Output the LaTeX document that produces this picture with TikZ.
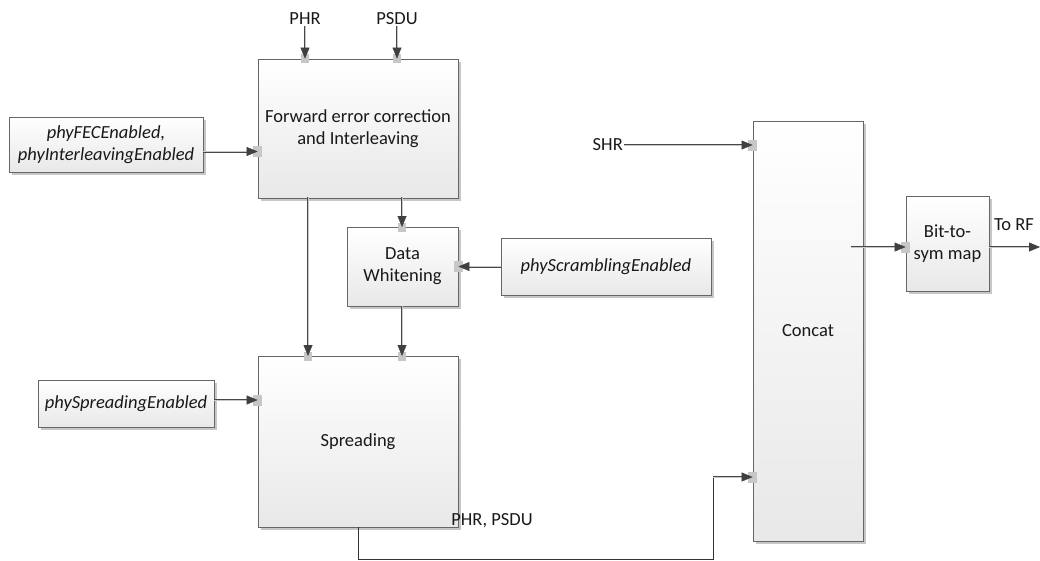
\documentclass[tikz,border=0pt]{standalone}
\usepackage{fontspec}
\setmainfont{Carlito}
\usetikzlibrary{arrows.meta,calc,shadows}
\begin{document}
\begin{tikzpicture}[x=1pt,y=-1pt,
  box/.style={draw=black!60, line width=0.8pt, top color=white, bottom color=black!9,
    inner sep=0pt, align=center, font=\fontsize{18.5}{22}\selectfont, text=black!90,
    drop shadow={shadow xshift=2.5pt, shadow yshift=-2.5pt, fill=black!22, opacity=1}},
  itbox/.style={box, font=\fontsize{18.5}{22}\selectfont\itshape},
  lbl/.style={inner sep=1pt, font=\fontsize{18.5}{22}\selectfont, text=black!90},
  conn/.style={draw=black!72, line width=0.55pt, double=black!22, double distance=0.9pt,
    -{Triangle[length=11pt,width=9pt,color=black!75,fill=black!75,line width=0.4pt]}},
  wire/.style={draw=black!80, line width=0.9pt},
  gluev/.pic={\fill[black!22] (-4,-4.5) rectangle (4,4.5);},
  glueh/.pic={\fill[black!22] (-4.5,-5.5) rectangle (4.5,5.5);}
]
\useasboundingbox (0,0) rectangle (1040,560);

% boxes
\node[box, minimum width=200pt, minimum height=139pt] (fec) at (358,128.5) {Forward error correction\\and Interleaving};
\node[itbox, minimum width=194pt, minimum height=55pt] (phyfec) at (106,144.5) {phyFECEnabled,\\phyInterleavingEnabled};
\node[box, minimum width=111pt, minimum height=79pt] (whit) at (402.5,266.5) {Data\\Whitening};
\node[itbox, minimum width=210pt, minimum height=57pt] (physcr) at (606,266.5) {phyScramblingEnabled};
\node[box, minimum width=200pt, minimum height=171pt] (spr) at (358,441.5) {Spreading};
\node[itbox, minimum width=176pt, minimum height=47pt] (physpr) at (126,403.5) {phySpreadingEnabled};
\node[box, minimum width=110pt, minimum height=420pt] (concat) at (808,331) {Concat};
\node[box, minimum width=83pt, minimum height=95pt] (bit) at (947.5,243.5) {Bit-to-\\sym map};

% labels
\node[lbl] (phr) at (305,19) {PHR};
\node[lbl] (psdu) at (397,19) {PSDU};
\node[lbl, anchor=east] (shr) at (624,145) {SHR};
\node[lbl] (torf) at (1014,225) {To RF};
\node[lbl] (pp) at (492,521) {PHR, PSDU};

\coordinate (cout) at (851,247);
\coordinate (rfend) at (1040,247);
\coordinate (c1) at (358,559);
\coordinate (c2) at (713,559);
\coordinate (c3) at (713,477);

% glue squares
\pic at (phr.south |- fec.north) {gluev};
\pic at (psdu.south |- fec.north) {gluev};
\pic at ([yshift=-7pt]phyfec.east -| fec.west) {glueh};
\pic at (402,227) {gluev};
\pic at (whit.east) {glueh};
\pic at (308,356) {gluev};
\pic at (402,356) {gluev};
\pic at ([yshift=3.5pt]physpr.east -| spr.west) {glueh};
\pic at (shr.east -| concat.west) {glueh};
\pic at (c3 -| concat.west) {glueh};
\pic at (cout -| bit.west) {glueh};

% connectors
\draw[conn] (phr.south) -- (phr.south |- fec.north);
\draw[conn] (psdu.south) -- (psdu.south |- fec.north);
\draw[conn] ([yshift=-7pt]phyfec.east) -- ([yshift=-7pt]phyfec.east -| fec.west);
\draw[conn] (402,197) -- (402,227);
\draw[conn] (physcr.west) -- (whit.east);
\draw[conn] (308,197) -- (308,356);
\draw[conn] (402,306) -- (402,356);
\draw[conn] ([yshift=3.5pt]physpr.east) -- ([yshift=3.5pt]physpr.east -| spr.west);
\draw[conn] (shr.east) -- (shr.east -| concat.west);
\draw[wire] (spr.south -| c1) -- (c1) -- (c2) -- (c3);
\draw[conn] (c3) -- (c3 -| concat.west);
\draw[conn] (cout) -- (cout -| bit.west);
\draw[conn] (bit.east |- rfend) -- (rfend);
\end{tikzpicture}
\end{document}
